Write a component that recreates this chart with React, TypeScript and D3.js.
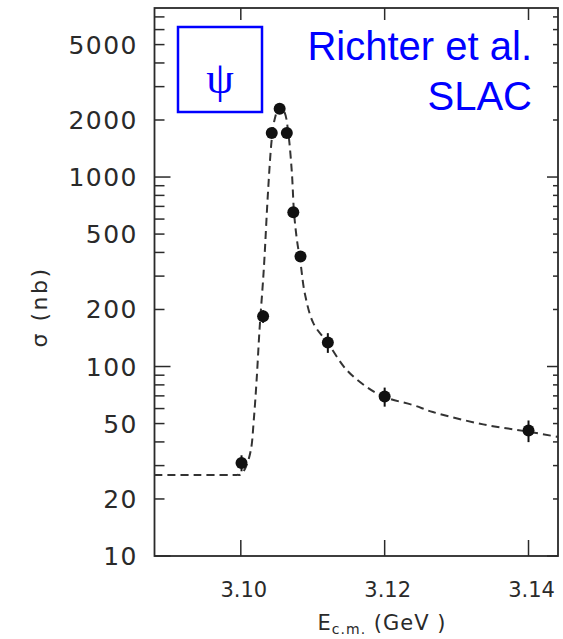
import React from "react";
import * as d3 from "d3";

// Data points (E_cm in GeV, sigma in nb, error in nb)
const pointE = [3.1001, 3.1031, 3.1043, 3.1054, 3.1064, 3.1073, 3.1083, 3.1121, 3.12, 3.14];
const pointSigma = [31, 184, 1710, 2296, 1710, 651, 381, 134, 69.4, 45.9];
const pointErr = [3, 14, 0, 0, 0, 0, 0, 16, 8, 6];

// Fitted curve
const curveE = [3.088, 3.094, 3.0995, 3.1, 3.1007, 3.1014, 3.1018, 3.1022, 3.1026, 3.1031, 3.1033, 3.1038, 3.1043, 3.1047, 3.1054, 3.1061, 3.1066, 3.1071, 3.1074, 3.1078, 3.1083, 3.1089, 3.1101, 3.1121, 3.1147, 3.1175, 3.12, 3.124, 3.1267, 3.1337, 3.14, 3.1441];
const curveSigma = [26.8, 26.8, 26.8, 26.9, 29.5, 36.3, 52, 85, 156, 287, 381, 857, 1578, 2010, 2383, 2188, 1710, 1054, 649, 467, 353, 243, 169, 133, 96, 78, 69, 62.5, 57.5, 49.5, 45.3, 42.5];

const xTicks = [3.1, 3.12, 3.14];
const xTickLabels = ["3.10", "3.12", "3.14"];
const yLabelValues = [10, 20, 50, 100, 200, 500, 1000, 2000, 5000];
const yMinorTicks = [10, 20, 30, 40, 50, 60, 70, 80, 90, 100, 200, 300, 400, 500, 600, 700, 800, 900, 1000, 2000, 3000, 4000, 5000, 6000, 7000];
const yMajorTicks = [10, 100, 1000];

export default function App() {
  const left = 154.5, right = 558, top = 8, bottom = 556;
  const x = d3.scaleLinear().domain([3.088, 3.1441]).range([left, right]);
  const y = d3.scaleLog().domain([10, 7800]).range([bottom, top]);
  const ink = "#2a2a2a";
  const line = d3
    .line<number>()
    .x((_, i) => x(curveE[i]))
    .y((_, i) => y(curveSigma[i]))
    .curve(d3.curveCatmullRom.alpha(0.5));
  const numFont = "'DejaVu Sans', sans-serif";

  return (
    <svg width={563} height={639} style={{ position: "absolute", left: 0, top: 0, background: "#fff" }}>
      <rect x={0} y={0} width={563} height={639} fill="#fff" />
      {/* frame */}
      <rect x={left} y={top} width={right - left} height={bottom - top} fill="none" stroke={ink} strokeWidth={1.8} />
      {/* left & right ticks */}
      {yMinorTicks.map((v) => {
        const major = yMajorTicks.includes(v);
        return (
          <g key={"yt" + v}>
            <line x1={left} x2={left + (major ? 16 : 10)} y1={y(v)} y2={y(v)} stroke={ink} strokeWidth={1.5} />
            <line x1={right} x2={right - (major ? 11 : 5)} y1={y(v)} y2={y(v)} stroke={ink} strokeWidth={1.5} />
          </g>
        );
      })}
      {/* y labels */}
      {yLabelValues.map((v) => (
        <text key={"yl" + v} x={138} y={y(v)} dy="0.36em" textAnchor="end" fontFamily={numFont} fontSize={25} letterSpacing={1.5} fill={ink}>
          {v}
        </text>
      ))}
      {/* x ticks */}
      {xTicks.map((v, i) => (
        <g key={"xt" + v}>
          <line x1={x(v)} x2={x(v)} y1={bottom} y2={bottom - 16} stroke={ink} strokeWidth={1.5} />
          <line x1={x(v)} x2={x(v)} y1={top} y2={top + 12} stroke={ink} strokeWidth={1.5} />
          <text x={x(v) + 3} y={597} textAnchor="middle" fontFamily={numFont} fontSize={21} fill={ink}>
            {xTickLabels[i]}
          </text>
        </g>
      ))}
      {/* axis titles */}
      <text x={382} y={630} textAnchor="middle" fontFamily={numFont} fontSize={21} fill={ink} letterSpacing={1}>
        E<tspan fontSize={14} dy={4}>c.m.</tspan>
        <tspan dy={-4}> (GeV )</tspan>
      </text>
      <text transform="translate(47,307) rotate(-90)" textAnchor="middle" fontFamily={numFont} fontSize={22} fill={ink} letterSpacing={2.5}>
        σ (nb)
      </text>
      {/* curve */}
      <path d={line(curveE) || ""} fill="none" stroke="#333" strokeWidth={2} strokeDasharray="8 5" />
      {/* points */}
      {pointE.map((e, i) => (
        <g key={"p" + i}>
          {pointErr[i] > 0 && (
            <line x1={x(e)} x2={x(e)} y1={y(pointSigma[i] + pointErr[i])} y2={y(pointSigma[i] - pointErr[i])} stroke="#111" strokeWidth={2} />
          )}
          <circle cx={x(e)} cy={y(pointSigma[i])} r={6} fill="#111" />
        </g>
      ))}
      {/* annotation */}
      <rect x={178} y={27} width={84} height={85} fill="#fff" stroke="#0000ff" strokeWidth={2.5} />
      <text x={220} y={93} textAnchor="middle" fontFamily="'Liberation Serif', serif" fontSize={44} fill="#0000ff">
        ψ
      </text>
      <text x={532} y={60} textAnchor="end" fontFamily="'Liberation Sans', Arial, sans-serif" fontSize={40} fill="#0000ff">
        Richter et al.
      </text>
      <text x={532} y={110} textAnchor="end" fontFamily="'Liberation Sans', Arial, sans-serif" fontSize={40} fill="#0000ff">
        SLAC
      </text>
    </svg>
  );
}
